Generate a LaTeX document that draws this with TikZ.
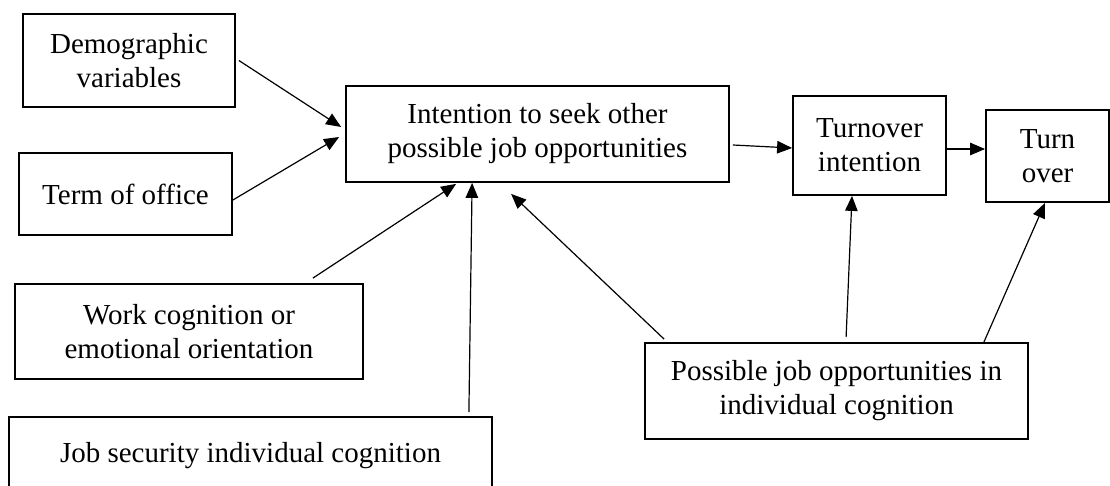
\documentclass[tikz,border=0pt]{standalone}
\usepackage{fontspec}
\setmainfont{Liberation Serif}
\usetikzlibrary{arrows.meta,calc}

\tikzset{
  box/.style={draw, line width=1.8pt, inner sep=0pt, align=center,
              font=\fontsize{29}{34}\selectfont},
  arr/.style={line width=1.2pt, -{Triangle[length=15pt,width=12.5pt]}}
}

\begin{document}
\begin{tikzpicture}[x=1pt,y=-1pt]
  \useasboundingbox (0,0) rectangle (1110,486);
  \clip (0,0) rectangle (1110,486);

  % boxes
  \node[box, minimum width=212pt, minimum height=93pt] (demo)   at (129,60.5)   {Demographic\\variables};
  \node[box, minimum width=213pt, minimum height=82pt] (term)   at (125.5,194)  {Term of office};
  \node[box, minimum width=383pt, minimum height=96pt] (intent) at (537.5,134)  {Intention to seek other\\possible job opportunities};
  \node[box, minimum width=153pt, minimum height=99pt] (tint)   at (869.5,145.5){Turnover\\intention};
  \node[box, minimum width=123pt, minimum height=92pt] (turn)   at (1047.5,156) {Turn\\over};
  \node[box, minimum width=348pt, minimum height=95pt] (work)   at (189,331.5)  {Work cognition or\\emotional orientation};
  \node[box, minimum width=483pt, minimum height=78pt] (jobsec) at (250.5,456)  {Job security individual cognition};
  \node[box, minimum width=383pt, minimum height=96pt] (posjob) at (836.5,391)  {Possible job opportunities in\\individual cognition};

  % connectors
  \draw[arr] ([xshift=3pt]demo.east) -- ([xshift=-4pt,yshift=7pt]intent.west);
  \draw[arr] ([yshift=-6pt]term.east) -- ([xshift=-6pt,yshift=-3pt]intent.west);
  \draw[arr] ([xshift=-51pt,yshift=5pt]work.north east) -- ([xshift=111pt,yshift=-1pt]intent.south west);
  \draw[arr] ([xshift=-24pt,yshift=4pt]jobsec.north east) -- ([xshift=127pt]intent.south west);
  \draw[arr] ([xshift=20pt,yshift=3pt]posjob.north west) -- ([xshift=166pt,yshift=-11pt]intent.south west);
  \draw[arr] ([xshift=202pt,yshift=5pt]posjob.north west) -- ([xshift=-17.5pt]tint.south);
  \draw[arr] ([xshift=-45pt]posjob.north east) -- ([xshift=-2.5pt]turn.south);
  \draw[arr] ([xshift=3pt,yshift=-11pt]intent.east) -- ([yshift=-2.5pt]tint.west);
  \draw[arr] ([yshift=-3.5pt]tint.east) -- ([yshift=7pt]turn.west);
\end{tikzpicture}
\end{document}
